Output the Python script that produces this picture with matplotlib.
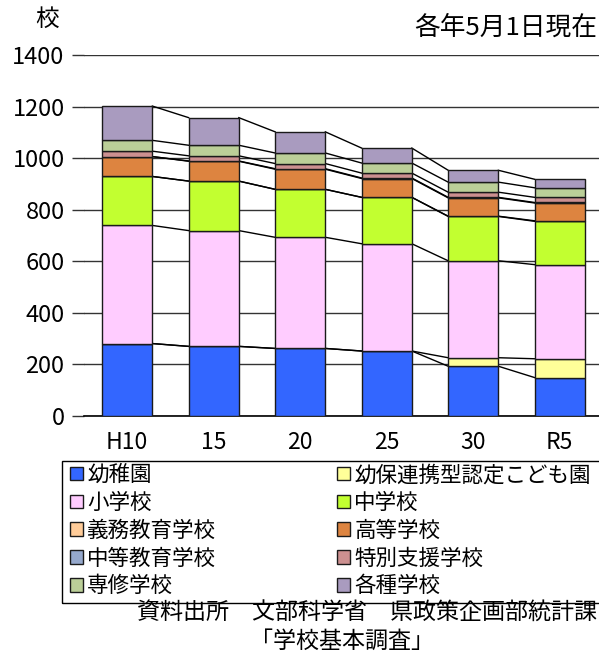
import numpy as np
import matplotlib
matplotlib.use('Agg')
import matplotlib.pyplot as plt
from matplotlib.patches import Patch, Rectangle

plt.rcParams['font.family'] = ['Noto Sans CJK JP', 'DejaVu Sans']

years = ['H10', '15', '20', '25', '30', 'R5']

kindergarten = [281, 270, 262, 252, 193, 149]
kodomoen = [0, 0, 0, 0, 33, 73]
elementary = [458, 449, 431, 416, 376, 365]
junior_high = [190, 192, 186, 180, 172, 168]
compulsory = [0, 0, 0, 0, 1, 2]
high_school = [77, 77, 78, 73, 71, 69]
secondary = [0, 1, 2, 2, 2, 2]
special_needs = [21, 20, 20, 19, 20, 20]
specialized = [42, 41, 41, 39, 39, 37]
misc_schools = [133, 107, 82, 58, 46, 33]

series = [
    ('幼稚園', kindergarten, '#3366ff'),
    ('幼保連携型認定こども園', kodomoen, '#ffff99'),
    ('小学校', elementary, '#ffccff'),
    ('中学校', junior_high, '#c2ff30'),
    ('義務教育学校', compulsory, '#ffcc99'),
    ('高等学校', high_school, '#dd8440'),
    ('中等教育学校', secondary, '#95a8cc'),
    ('特別支援学校', special_needs, '#cc9090'),
    ('専修学校', specialized, '#bbcf98'),
    ('各種学校', misc_schools, '#a99bbf'),
]

W, H = 599, 657
fig = plt.figure(figsize=(W / 100, H / 100), dpi=100)

def fx(x):
    return x / W

def fy(y):
    return 1 - y / H

ax = fig.add_axes([fx(84), fy(416), fx(599) - fx(84), fy(55) - fy(416)])

x = np.arange(len(years))
width = 0.58
bottom = np.zeros(len(years))
tops = []
for name, vals, color in series:
    vals = np.array(vals, dtype=float)
    ax.bar(x, vals, width, bottom=bottom, color=color, edgecolor='#1a1a1a',
           linewidth=1.0, zorder=3)
    bottom = bottom + vals
    tops.append(bottom.copy())

# series lines between bars
for t in tops:
    for i in range(len(years) - 1):
        ax.plot([x[i] + width / 2, x[i + 1] - width / 2], [t[i], t[i + 1]],
                color='black', linewidth=1.0, zorder=2)

ax.set_ylim(0, 1400)
ax.set_xlim(-0.5, -0.5 + 515 / 86.5)
ax.set_yticks(range(0, 1401, 200))
ax.yaxis.grid(True, color='#333333', linewidth=1.0, zorder=0)
ax.set_axisbelow(True)
ax.set_xticks(x)
ax.set_xticklabels(years)
for s in ['top', 'right', 'left']:
    ax.spines[s].set_visible(False)
ax.spines['bottom'].set_color('black')
ax.spines['bottom'].set_linewidth(1.2)
ax.tick_params(axis='y', length=9, width=1.0, color='#333333', labelsize=17, pad=5)
ax.tick_params(axis='x', length=0, labelsize=16.5, pad=11)

fig.text(fx(47), fy(19), '校', fontsize=17, ha='center', va='center')
fig.text(fx(597), fy(28), '各年5月1日現在', fontsize=18.5, ha='right', va='center')

# legend box
fig.patches.append(Rectangle((fx(62), fy(603)), fx(560), fy(461) - fy(603),
                             transform=fig.transFigure, fill=False,
                             edgecolor='black', linewidth=1.0))
handles = [Patch(facecolor=c, edgecolor='#1a1a1a', label=n) for n, _, c in series]
order = [0, 2, 4, 6, 8, 1, 3, 5, 7, 9]
fig.legend([handles[i] for i in order], [handles[i].get_label() for i in order],
           ncol=2, loc='upper left', bbox_to_anchor=(fx(68), fy(462)),
           frameon=False, fontsize=15.5, handlelength=0.6, handleheight=0.6,
           handletextpad=0.2, columnspacing=5.6, labelspacing=0.27,
           borderaxespad=0, borderpad=0.1)

fig.text(fx(597), fy(613), '資料出所　文部科学省　県政策企画部統計課', fontsize=16.6,
         ha='right', va='center')
fig.text(fx(342), fy(641), '「学校基本調査」', fontsize=16.6, ha='center', va='center')

fig.savefig('out.png', dpi=100)
